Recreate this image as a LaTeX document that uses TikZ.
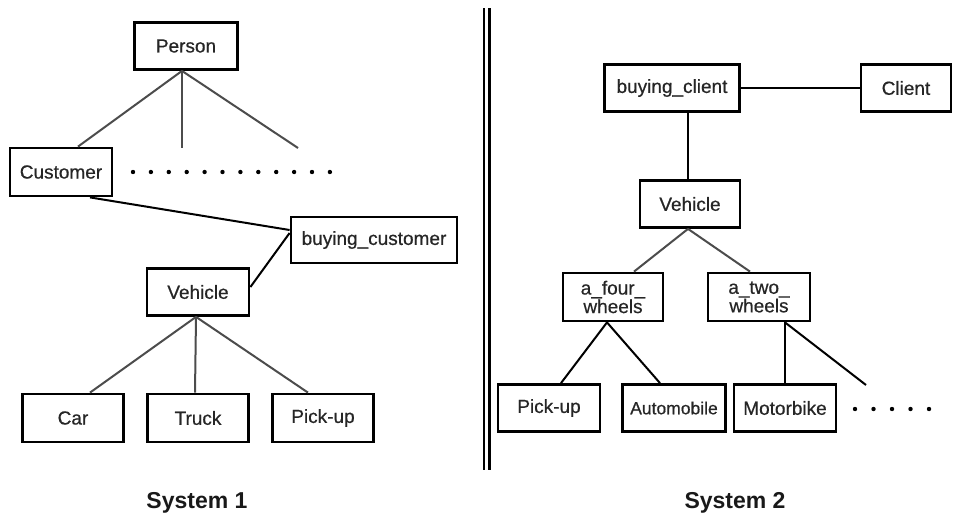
\documentclass[tikz,border=0pt]{standalone}
\usepackage{fontspec}
\setmainfont{Liberation Sans}
\newfontfamily\lblfont[FakeBold=0.6]{Liberation Sans}
\begin{document}
\begin{tikzpicture}[x=1pt,y=-1pt,
  box/.style={draw=black, line width=2.8pt, inner sep=0pt, align=center,
    font=\lblfont\fontsize{19}{17}\selectfont, text=black!85},
  conn/.style={line width=2pt, black},
  gconn/.style={line width=2pt, black!70},
  dotmark/.style={fill=black, draw=none},
  caption/.style={font=\fontsize{23}{26}\selectfont\bfseries, text=black!90}]
\useasboundingbox (0,0) rectangle (953,515);

% ---------- System 1 ----------
\node[box, minimum width=103pt, minimum height=47pt] (person) at (186,46) {Person};
\node[box, minimum width=102pt, minimum height=48pt] (cust) at (61,172) {Customer};
\node[box, minimum width=166pt, minimum height=46pt] (bcust) at (374,240) {buying\_customer};
\node[box, minimum width=102pt, minimum height=47pt] (veh) at (198,292) {Vehicle};
\node[box, minimum width=101pt, minimum height=48pt] (car) at (73,418) {Car};
\node[box, minimum width=101pt, minimum height=48pt] (truck) at (198,418) {Truck};
\node[box, minimum width=101pt, minimum height=48pt] (pick) at (323,418) {Pick-up};

\coordinate (pend1) at (182,148);
\coordinate (pend2) at (298,148);

\draw[gconn] ([xshift=-4pt]person.south) -- ([xshift=17pt]cust.north);
\draw[gconn] ([xshift=-4pt]person.south) -- (pend1);
\draw[gconn] ([xshift=-4pt]person.south) -- (pend2);

\draw[conn] ([xshift=29pt]cust.south) -- ([yshift=10pt]bcust.west);
\draw[conn] ([yshift=7pt]bcust.west) -- ([yshift=5pt]veh.east);

\draw[gconn] ([xshift=-2pt]veh.south) -- ([xshift=17pt]car.north);
\draw[gconn] ([xshift=-2pt]veh.south) -- ([xshift=-3pt]truck.north);
\draw[gconn] ([xshift=-2pt]veh.south) -- ([xshift=-15pt]pick.north);

\foreach \i in {0,...,11} {
  \fill[dotmark] (133+\i*17.9,172) circle (2.2pt);
}

\node[caption] (cap1) at (197,503) {System 1};

% ---------- divider ----------
\coordinate (d1t) at (484,8);
\coordinate (d1b) at (484,470);
\coordinate (d2t) at (489.5,8);
\coordinate (d2b) at (489.5,470);
\draw[line width=2.6pt] (d1t) -- (d1b);
\draw[line width=2.6pt] (d2t) -- (d2b);

% ---------- System 2 ----------
\node[box, minimum width=135pt, minimum height=47pt] (bcl) at (672,88) {buying\_client};
\node[box, minimum width=90pt, minimum height=47pt] (client) at (906,88) {Client};
\node[box, minimum width=100pt, minimum height=47pt] (veh2) at (690,204) {Vehicle};
\node[box, minimum width=100pt, minimum height=48pt] (four) at (613,297) {a\_four\_\\wheels};
\node[box, minimum width=102pt, minimum height=48pt] (two) at (759,297) {a\_two\_\\wheels};
\node[box, minimum width=102pt, minimum height=47pt] (pick2) at (549,408) {Pick-up};
\node[box, minimum width=103pt, minimum height=47pt, font=\lblfont\fontsize{17.5}{17}\selectfont] (auto) at (674,408) {Automobile};
\node[box, minimum width=102pt, minimum height=47pt] (moto) at (785,408) {Motorbike};

\coordinate (tend) at (866,385);

\draw[conn] (bcl.east) -- (client.west);
\draw[conn] ([xshift=16pt]bcl.south) -- ([xshift=-2pt]veh2.north);
\draw[gconn] ([xshift=-2pt]veh2.south) -- ([xshift=21pt]four.north);
\draw[gconn] ([xshift=-2pt]veh2.south) -- ([xshift=-9pt]two.north);
\draw[conn] ([xshift=-6pt]four.south) -- ([xshift=12pt]pick2.north);
\draw[conn] ([xshift=-6pt]four.south) -- ([xshift=-14pt]auto.north);
\draw[conn] ([xshift=26pt]two.south) -- (moto.north);
\draw[conn] ([xshift=26pt]two.south) -- (tend);

\foreach \i in {0,...,4} {
  \fill[dotmark] (855+\i*18.5,409) circle (2.2pt);
}

\node[caption] (cap2) at (735,503) {System 2};
\end{tikzpicture}
\end{document}
